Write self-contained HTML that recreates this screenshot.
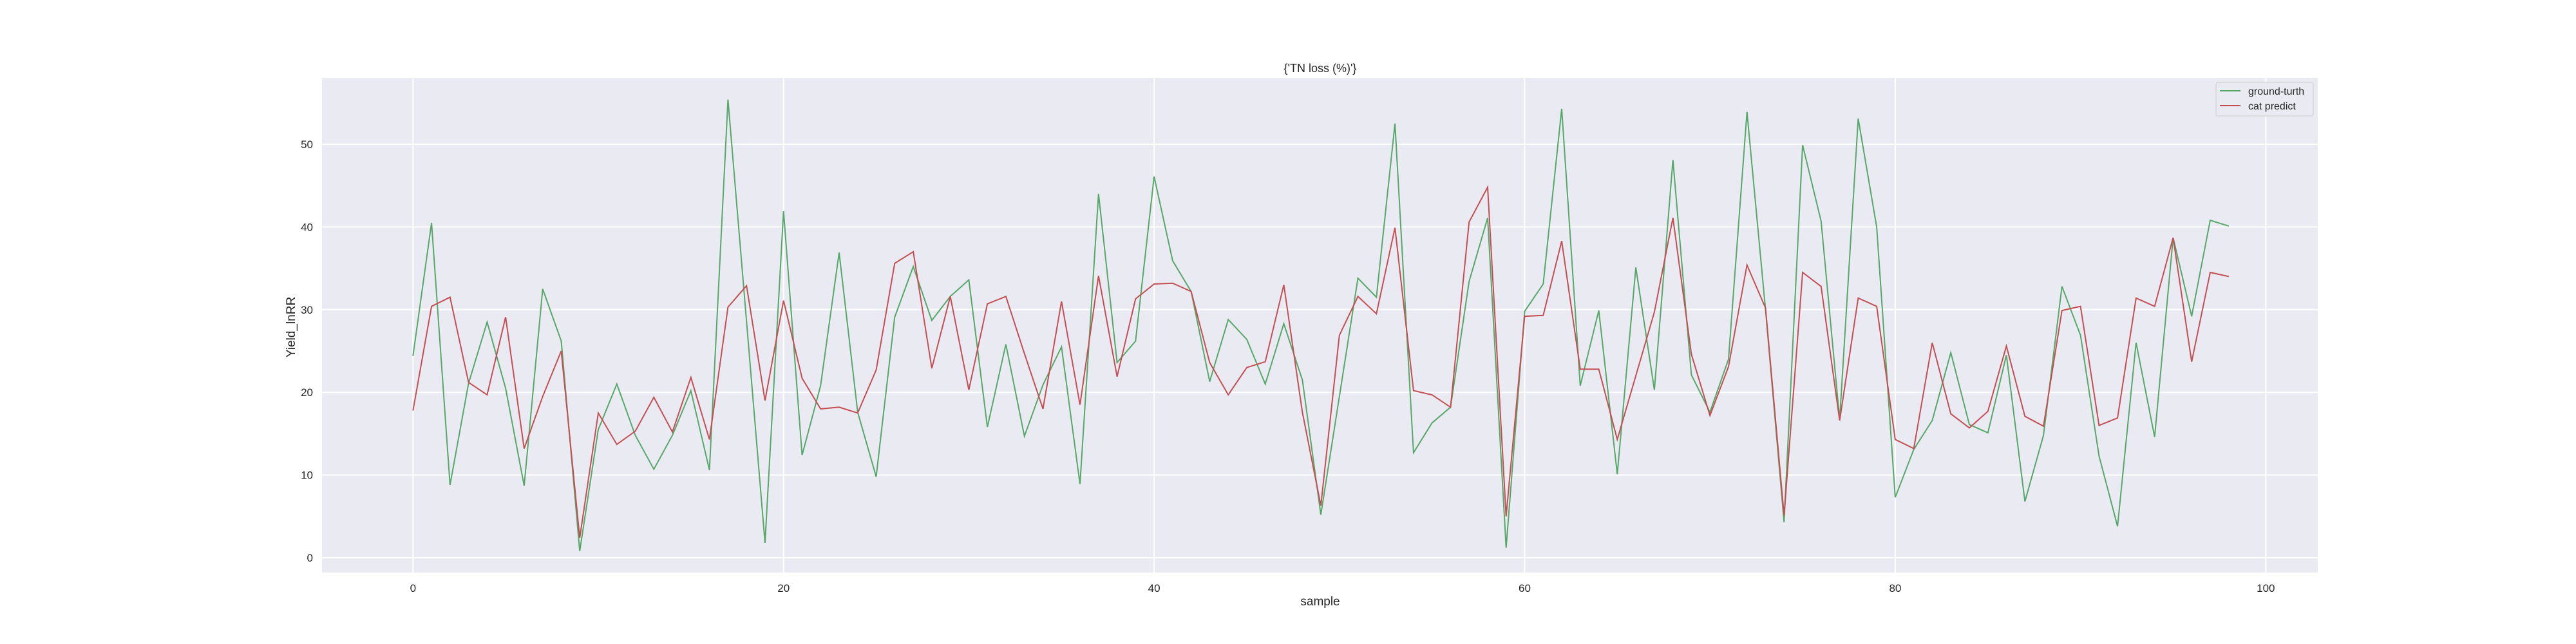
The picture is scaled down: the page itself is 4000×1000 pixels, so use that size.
<!DOCTYPE html>
<html><head><meta charset="utf-8">
<style>
html,body{margin:0;padding:0;background:#fff;}
svg{display:block;font-family:"Liberation Sans","DejaVu Sans",sans-serif;}
</style></head>
<body>
<svg id="chart" width="4000" height="1000" viewBox="0 0 4000 1000" xmlns="http://www.w3.org/2000/svg">
  <rect x="500" y="121" width="3099" height="768" fill="#eaeaf2"/>
  <g id="grid"></g>
  <g id="ticks"></g>
  <g id="series"></g>
  <text x="2050" y="112" font-size="18" text-anchor="middle" fill="#262626">{'TN loss (%)'}</text>
  <text x="2050" y="940" font-size="19" text-anchor="middle" fill="#262626">sample</text>
  <text x="0" y="0" font-size="19" text-anchor="middle" fill="#262626" transform="translate(458,508) rotate(-90)">Yield_lnRR</text>
  <g>
    <rect x="3441" y="128" width="151" height="52" rx="3" fill="#eaeaf2" stroke="#cccccc" stroke-width="1"/>
    <line x1="3447" y1="141" x2="3479" y2="141" stroke="#55a868" stroke-width="2"/>
    <text x="3491" y="147" font-size="16" fill="#262626">ground-turth</text>
    <line x1="3447" y1="164" x2="3479" y2="164" stroke="#c44e52" stroke-width="2"/>
    <text x="3491" y="170" font-size="16" fill="#262626">cat predict</text>
  </g>
</svg>
<script>
const groundTruth = [24.4,40.5,8.8,21.1,28.5,20.5,8.7,32.5,26.2,0.8,15.5,21.0,14.8,10.7,14.8,20.2,10.6,55.4,28.6,1.8,41.9,12.4,20.8,36.9,17.6,9.8,29.1,35.2,28.7,31.6,33.6,15.8,25.8,14.7,20.9,25.5,8.9,44.0,23.6,26.2,46.1,35.9,32.2,21.3,28.8,26.4,21.0,28.3,21.5,5.2,19.5,33.8,31.5,52.5,12.7,16.3,18.2,33.4,41.1,1.2,29.8,33.1,54.3,20.8,29.9,10.1,35.1,20.3,48.1,22.1,17.6,24.0,53.9,30.0,4.3,49.9,40.7,16.7,53.1,40.0,7.3,13.1,16.6,24.8,16.1,15.1,24.5,6.8,14.8,32.8,26.9,12.3,3.8,26.0,14.6,38.7,29.2,40.8,40.1];
const catPredict = [17.8,30.4,31.5,21.2,19.7,29.1,13.2,19.5,25.0,2.4,17.5,13.7,15.3,19.4,15.2,21.8,14.3,30.3,32.9,19.0,31.1,21.7,18.0,18.2,17.5,22.7,35.6,37.0,22.9,31.6,20.3,30.7,31.6,24.7,18.0,31.0,18.5,34.1,21.9,31.3,33.1,33.2,32.2,23.6,19.7,23.0,23.7,33.0,17.6,6.3,26.9,31.6,29.5,39.9,20.2,19.7,18.2,40.6,44.8,5.0,29.2,29.3,38.3,22.8,22.8,14.3,22.0,29.7,41.1,24.6,17.2,23.1,35.4,30.2,5.1,34.5,32.8,16.6,31.4,30.4,14.3,13.2,26.0,17.4,15.7,17.7,25.6,17.1,15.9,29.9,30.4,16.0,16.9,31.4,30.4,38.7,23.7,34.5,34.0];
const xTicks = [0,20,40,60,80,100];
const yTicks = [0,10,20,30,40,50];

const NS = "http://www.w3.org/2000/svg";
const X0 = 641.3, XS = 28.77;
const Y0 = 866, YS = 12.84;
function xScale(v){ return X0 + v*XS; }
function yScale(v){ return Y0 - v*YS; }
function mk(tag, attrs, parent){
  const e = document.createElementNS(NS, tag);
  for (const k in attrs) e.setAttribute(k, attrs[k]);
  parent.appendChild(e);
  return e;
}
const grid = document.getElementById('grid');
const ticks = document.getElementById('ticks');
xTicks.forEach(t => {
  const x = xScale(t);
  if (x >= 500 && x <= 3599) {
    const l = mk('line', {x1:x, y1:121, x2:x, y2:889, stroke:'#ffffff', 'stroke-width':2}, grid);
    
    
  }
  const tx = mk('text', {x:x, y:919, 'font-size':17, 'text-anchor':'middle', fill:'#262626'}, ticks);
  tx.textContent = t;
  
  
});
yTicks.forEach(t => {
  const y = yScale(t);
  const l = mk('line', {x1:500, y1:y, x2:3599, y2:y, stroke:'#ffffff', 'stroke-width':2}, grid);
  
  
  const tx = mk('text', {x:486, y:y+6, 'font-size':17, 'text-anchor':'end', fill:'#262626'}, ticks);
  tx.textContent = t;
  
  
});
const series = document.getElementById('series');
function drawLine(vals, color, name){
  const pts = vals.map((v,i) => xScale(i).toFixed(1) + ',' + yScale(v).toFixed(1)).join(' ');
  const p = mk('polyline', {points:pts, fill:'none', stroke:color, 'stroke-width':2, 'stroke-linejoin':'miter'}, series);
  
  
}
drawLine(groundTruth, '#55a868', 'ground-truth-line');
drawLine(catPredict, '#c44e52', 'cat-predict-line');
</script>
</body></html>
